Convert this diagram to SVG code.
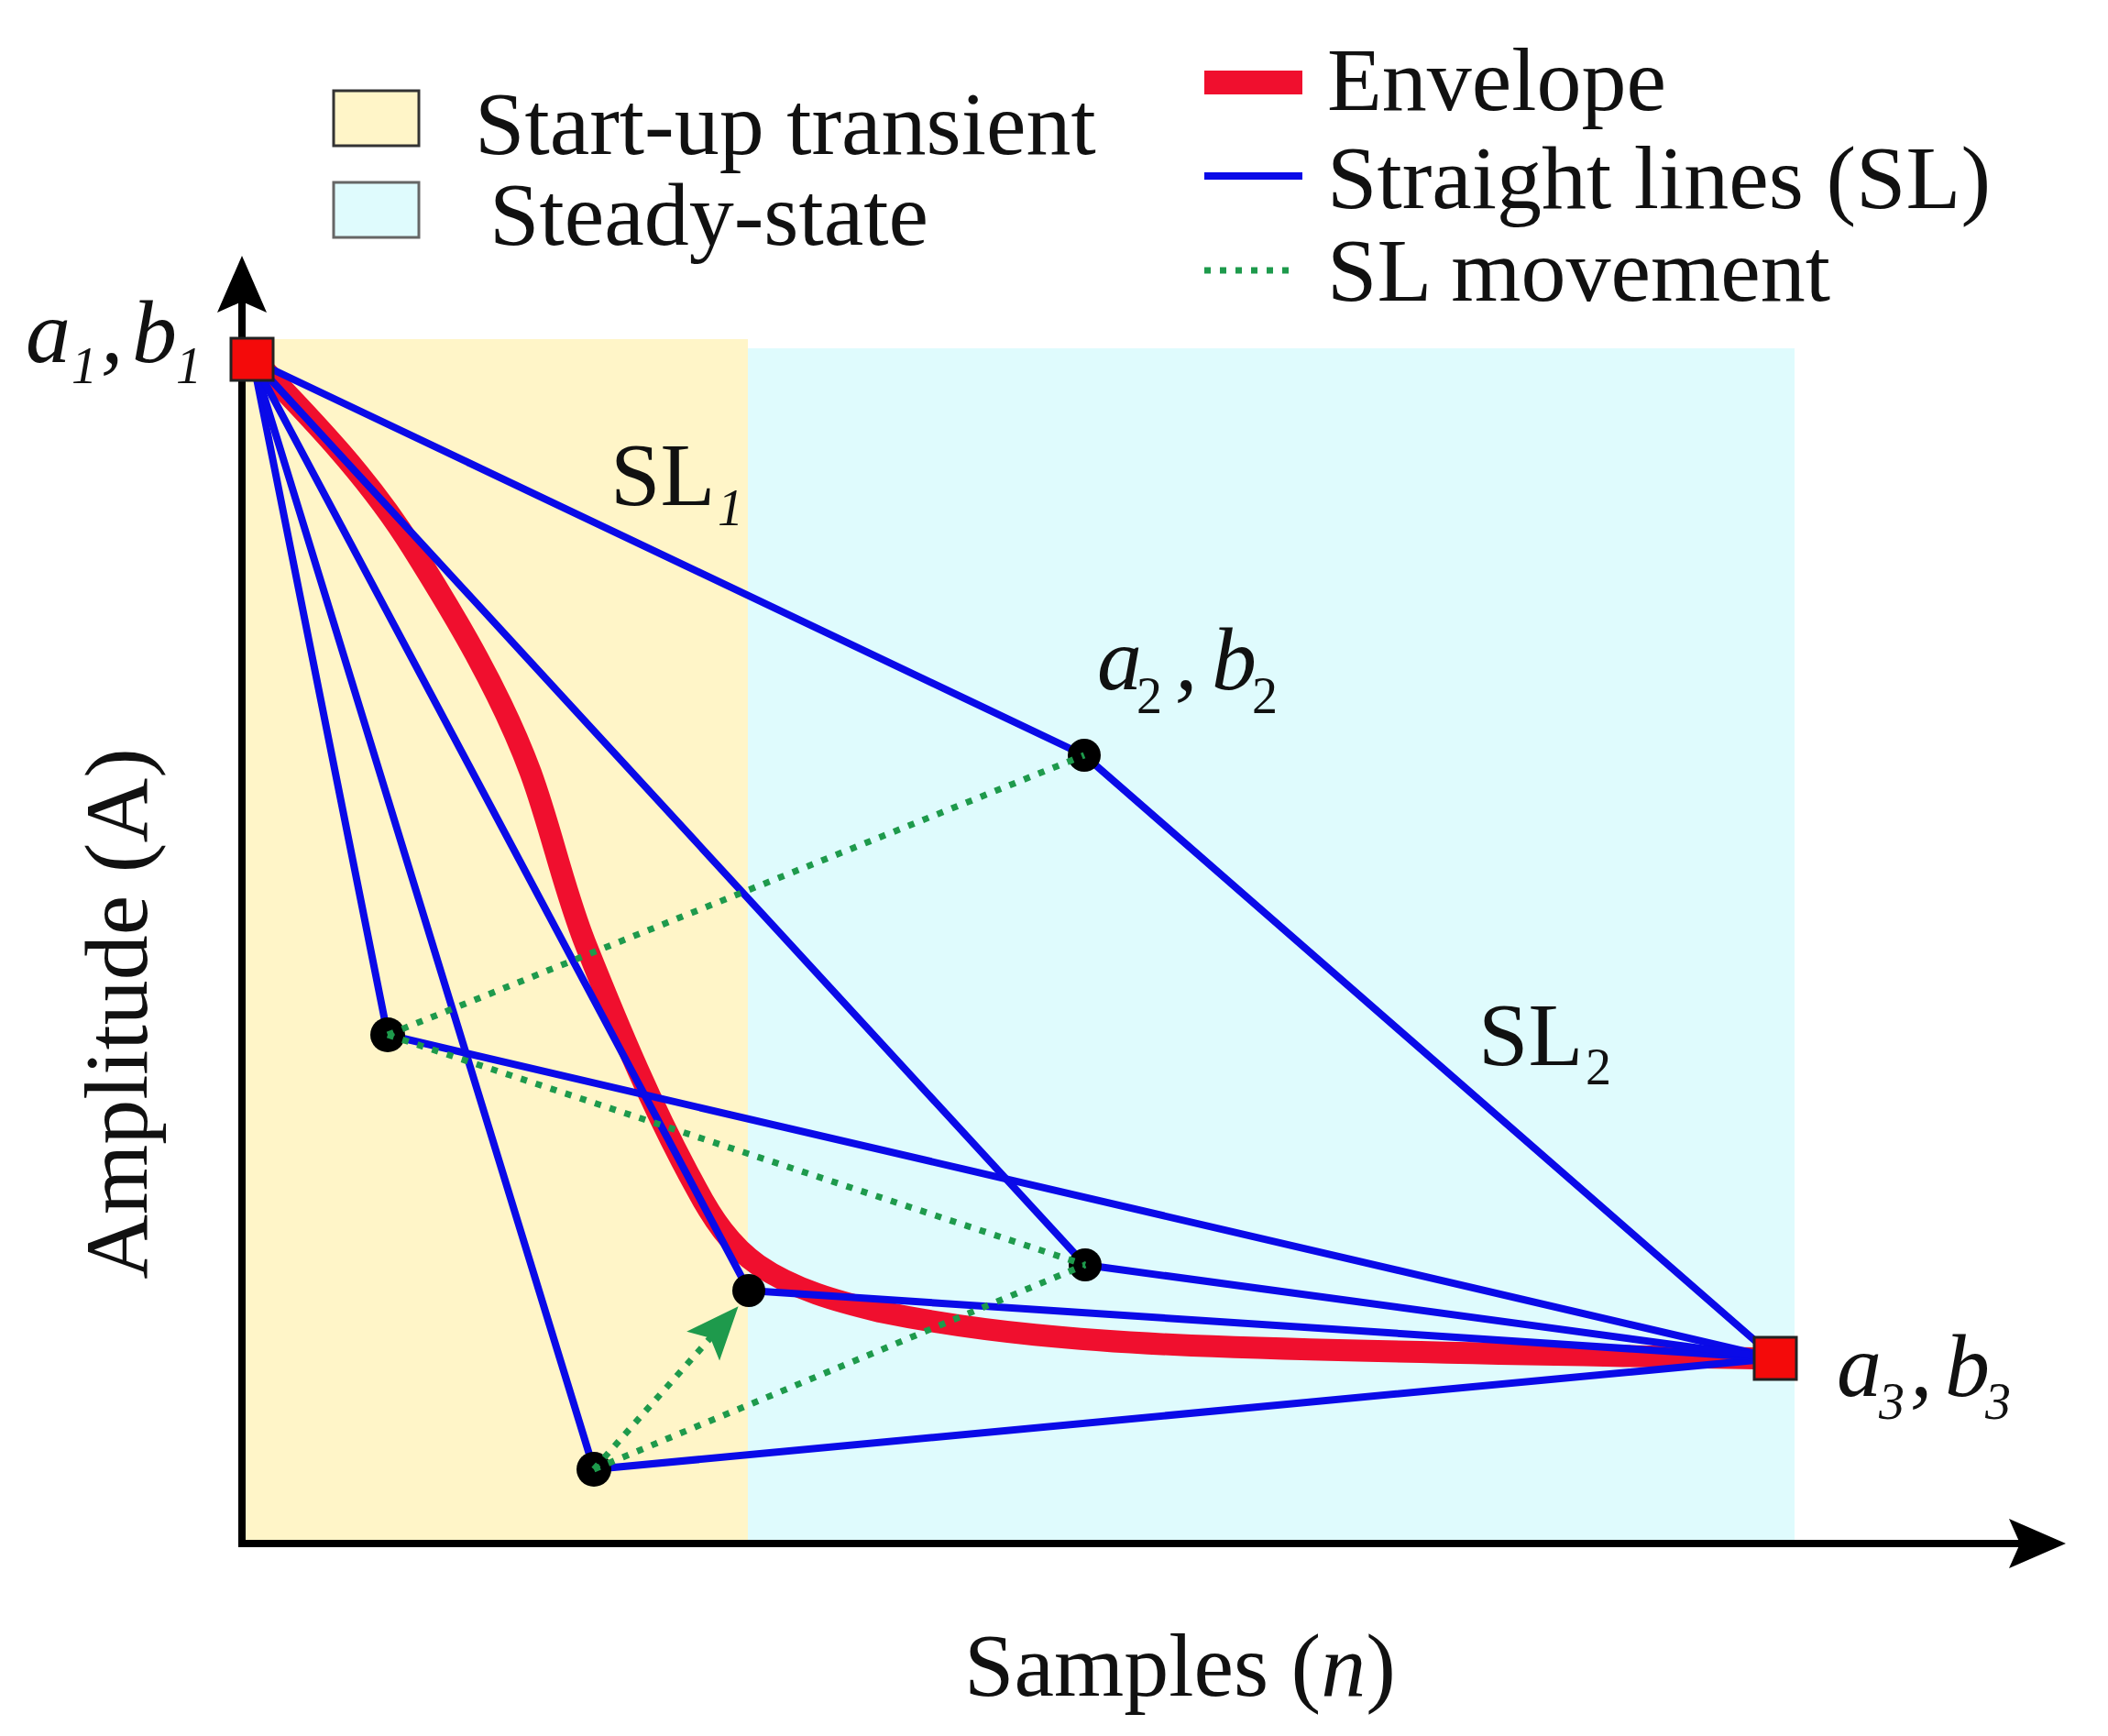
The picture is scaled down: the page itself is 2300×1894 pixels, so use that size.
<svg xmlns="http://www.w3.org/2000/svg" width="2300" height="1894" viewBox="0 0 2300 1894">
<style>
.t{font-family:"Liberation Serif","Times New Roman",serif;font-size:98px;fill:#111}
.it{font-style:italic}
.sub{font-size:56px}
.bl{stroke:#0a0ae8;stroke-width:8;fill:none;stroke-linecap:round}
.gr{stroke:#1e9a4c;stroke-width:7;fill:none;stroke-dasharray:7 10}
.env{stroke:#f00f2e;stroke-width:24;fill:none;stroke-linejoin:round;stroke-linecap:butt}
.pt{fill:#000}
.sq{fill:#f40a0a;stroke:#222;stroke-width:3}
.ax{stroke:#000;stroke-width:8;fill:none}
</style>
<defs>
<marker id="axArrow" markerUnits="userSpaceOnUse" viewBox="-40 -30 80 60" markerWidth="80" markerHeight="60" refX="0" refY="0" orient="auto">
<path d="M30,0 L-32,-27 L-20,0 L-32,27 Z" fill="#000"/>
</marker>
<marker id="gArrow" markerUnits="userSpaceOnUse" viewBox="-40 -30 80 60" markerWidth="80" markerHeight="60" refX="0" refY="0" orient="auto">
<path d="M25,0 L-33,-24 L-21,0 L-33,24 Z" fill="#1e9a4c"/>
</marker>
</defs>
<rect width="2300" height="1894" fill="#fff"/>

<g id="regions">
<rect id="transient" x="268" y="370" width="548" height="1310" fill="#fff5c8"/>
<rect id="steady" x="816" y="380" width="1142" height="1300" fill="#dffbfd"/>
</g>

<g id="legend">
<rect x="364" y="99" width="93" height="60" fill="#fff5c8" stroke="#333" stroke-width="3"/>
<text class="t" x="518" y="168">Start-up transient</text>
<rect x="364" y="199" width="93" height="60" fill="#dffbfd" stroke="#666" stroke-width="3"/>
<text class="t" x="534" y="267">Steady-state</text>
<rect x="1314" y="77" width="107" height="26" fill="#f00f2e"/>
<text class="t" x="1448" y="120">Envelope</text>
<line x1="1314" y1="192" x2="1421" y2="192" stroke="#0a0ae8" stroke-width="8"/>
<text class="t" x="1448" y="227">Straight lines (SL)</text>
<line x1="1314" y1="295" x2="1414" y2="295" class="gr"/>
<text class="t" x="1448" y="328">SL movement</text>
</g>

<g id="axes">
<line class="ax" x1="264" y1="1688" x2="264" y2="309" marker-end="url(#axArrow)"/>
<line class="ax" x1="260" y1="1684" x2="2224" y2="1684" marker-end="url(#axArrow)"/>
<text class="t" transform="translate(160,1106) rotate(-90)" text-anchor="middle">Amplitude (A)</text>
<text class="t" x="1052" y="1850">Samples (<tspan class="it">n</tspan>)</text>
</g>

<g id="envelope">
<path class="env" d="M283,398 C344,461 404,524 450,598 C499,676 547,757 579,843 C602,906 615,971 640,1033 C676,1123 713,1212 760,1297 C777,1329 797,1359 827,1380 C866,1407 914,1420 960,1431 C1072,1454 1186,1463 1300,1468 C1505,1476 1709,1478 1914,1482"/>
</g>

<g id="connectors">
<g id="straight-lines">
<line class="bl" x1="276" y1="393" x2="1183" y2="824"/>
<line class="bl" x1="1183" y1="824" x2="1937" y2="1482"/>
<line class="bl" x1="276" y1="393" x2="423" y2="1129"/>
<line class="bl" x1="423" y1="1129" x2="1937" y2="1482"/>
<line class="bl" x1="276" y1="393" x2="648" y2="1603"/>
<line class="bl" x1="648" y1="1603" x2="1937" y2="1482"/>
<line class="bl" x1="276" y1="393" x2="817" y2="1408"/>
<line class="bl" x1="817" y1="1408" x2="1937" y2="1482"/>
<line class="bl" x1="276" y1="393" x2="1184" y2="1380"/>
<line class="bl" x1="1184" y1="1380" x2="1937" y2="1482"/>
</g>
</g>

<g id="p-a2b2"><circle class="pt" cx="1183" cy="824" r="18"/></g>
<g id="p1"><circle class="pt" cx="423" cy="1129" r="19"/></g>
<g id="p2"><circle class="pt" cx="1184" cy="1380" r="18"/></g>
<g id="p3"><circle class="pt" cx="817" cy="1408" r="18"/></g>
<g id="p4"><circle class="pt" cx="648" cy="1603" r="19"/></g>

<g id="movement">
<line class="gr" x1="423" y1="1129" x2="1183" y2="824"/>
<line class="gr" x1="423" y1="1129" x2="1184" y2="1380"/>
<line class="gr" x1="648" y1="1603" x2="1184" y2="1380"/>
<line class="gr" x1="648" y1="1603" x2="789" y2="1444" marker-end="url(#gArrow)"/>
</g>

<g id="a1b1">
<rect class="sq" x="252" y="369" width="46" height="46"/>
<text class="t it" x="28" y="395">a<tspan class="sub" x="78" y="418">1</tspan><tspan x="110" y="395">,</tspan><tspan x="144" y="395">b</tspan><tspan class="sub" x="192" y="418">1</tspan></text>
</g>

<g id="a2b2">
<text class="t it" x="1197" y="752">a<tspan class="sub" font-style="normal" x="1240" y="778">2</tspan><tspan x="1282" y="752">,</tspan><tspan x="1322" y="752">b</tspan><tspan class="sub" font-style="normal" x="1366" y="778">2</tspan></text>
</g>

<g id="a3b3">
<rect class="sq" x="1914" y="1459" width="46" height="46"/>
<text class="t it" x="2004" y="1523">a<tspan class="sub" x="2050" y="1548">3</tspan><tspan x="2084" y="1523">,</tspan><tspan x="2122" y="1523">b</tspan><tspan class="sub" x="2166" y="1548">3</tspan></text>
</g>

<g id="labels">
<text class="t" x="666" y="551">SL<tspan class="it sub" x="783" y="573">1</tspan></text>
<text class="t" x="1613" y="1162">SL<tspan class="sub" x="1730" y="1183">2</tspan></text>
</g>
</svg>
